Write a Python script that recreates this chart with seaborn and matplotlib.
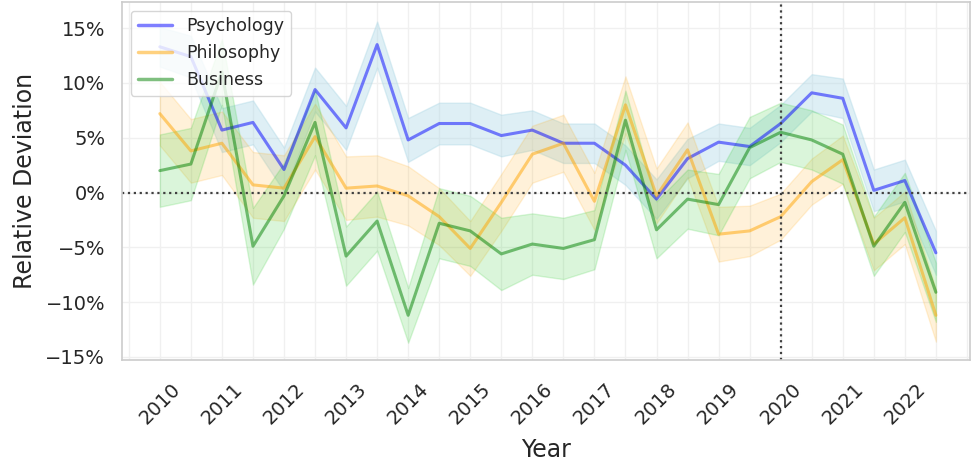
import numpy as np
import pandas as pd
import seaborn as sns
from matplotlib import pyplot as plt
from matplotlib.ticker import PercentFormatter, MultipleLocator

sns.set_theme(style='whitegrid')

periods = [2010.0, 2010.5, 2011.0, 2011.5, 2012.0, 2012.5, 2013.0, 2013.5, 2014.0, 2014.5,
           2015.0, 2015.5, 2016.0, 2016.5, 2017.0, 2017.5, 2018.0, 2018.5, 2019.0, 2019.5,
           2020.0, 2020.5, 2021.0, 2021.5, 2022.0, 2022.5]
year_ticks = [2010, 2011, 2012, 2013, 2014, 2015, 2016, 2017, 2018, 2019, 2020, 2021, 2022]

psychology = [13.3, 12.4, 5.7, 6.4, 2.1, 9.4, 5.9, 13.5, 4.8, 6.3, 6.3, 5.2, 5.7,
              4.5, 4.5, 2.5, -0.6, 3.1, 4.6, 4.2, 6.3, 9.1, 8.6, 0.2, 1.1, -5.5]
psychology_err = [1.8, 1.9, 2.0, 2.0, 2.0, 2.0, 2.0, 2.1, 2.0, 1.9, 1.9, 1.9, 1.8,
                  1.8, 1.8, 1.8, 1.8, 1.8, 1.7, 1.7, 1.7, 1.7, 1.8, 1.9, 1.9, 2.0]
philosophy = [7.2, 3.8, 4.5, 0.7, 0.4, 5.1, 0.4, 0.6, -0.3, -2.2, -5.1, -0.9, 3.5,
              4.5, -0.8, 8.0, -0.3, 3.9, -3.8, -3.5, -2.2, 1.0, 3.0, -4.7, -2.3, -11.2]
philosophy_err = [2.9, 2.9, 2.9, 3.0, 3.0, 3.0, 2.9, 2.8, 2.7, 2.6, 2.5, 2.6, 2.6,
                  2.6, 2.6, 2.6, 2.5, 2.5, 2.5, 2.3, 2.1, 2.1, 2.2, 2.4, 2.4, 2.4]
business = [2.0, 2.6, 11.0, -4.9, -0.3, 6.4, -5.8, -2.6, -11.2, -2.8, -3.5, -5.6, -4.7,
            -5.1, -4.3, 6.6, -3.4, -0.6, -1.1, 4.1, 5.5, 4.8, 3.5, -4.9, -0.9, -9.1]
business_err = [3.3, 3.3, 3.0, 3.5, 3.0, 3.0, 2.7, 2.7, 2.5, 3.2, 3.2, 3.3, 2.8,
                2.8, 2.7, 2.7, 2.6, 2.7, 2.8, 2.8, 2.7, 2.7, 2.7, 2.7, 2.7, 2.7]

fields = ['Psychology', 'Philosophy', 'Business']
line_colors = {'Psychology': 'blue', 'Philosophy': 'orange', 'Business': 'green'}
band_colors = {'Psychology': ('lightblue', 0.4), 'Philosophy': ('orange', 0.15),
               'Business': ('limegreen', 0.18)}

df = pd.concat([
    pd.DataFrame({'Year': periods, 'dev': psychology, 'err': psychology_err, 'field': 'Psychology'}),
    pd.DataFrame({'Year': periods, 'dev': philosophy, 'err': philosophy_err, 'field': 'Philosophy'}),
    pd.DataFrame({'Year': periods, 'dev': business, 'err': business_err, 'field': 'Business'}),
])

fig, ax = plt.subplots(figsize=(9.71, 4.66), dpi=100)
fig.subplots_adjust(left=0.1256, right=0.999, top=0.996, bottom=0.227)

for f in fields:
    d = df[df['field'] == f]
    c, a = band_colors[f]
    ax.fill_between(d['Year'], d['dev'] - d['err'], d['dev'] + d['err'], color=c, alpha=a)

sns.lineplot(data=df, x='Year', y='dev', hue='field', hue_order=fields, palette=line_colors,
             linewidth=2.2, alpha=0.5, ax=ax)

ax.axhline(0, color='0.25', linestyle=':', linewidth=1.6)
ax.axvline(2020, color='0.25', linestyle=':', linewidth=1.6)

ax.set_xlim(2009.39, 2023.05)
ax.set_ylim(-15.3, 17.4)
ax.set_xticks(year_ticks)
ax.set_xticklabels([str(y) for y in year_ticks], rotation=45, fontsize=14)
ax.xaxis.set_minor_locator(MultipleLocator(0.5))
ax.yaxis.set_major_locator(MultipleLocator(5))
ax.yaxis.set_major_formatter(PercentFormatter(decimals=0))
ax.tick_params(axis='y', labelsize=14, pad=12)
ax.tick_params(axis='x', pad=14)
ax.tick_params(which='both', length=0)
ax.grid(which='both', color='0.94', linewidth=1)
ax.set_xlabel('Year', fontsize=17, labelpad=7)
ax.set_ylabel('Relative Deviation', fontsize=17, labelpad=6)
for s in ax.spines.values():
    s.set_color('0.8')
    s.set_linewidth(1.2)

leg = ax.legend(loc='upper left', fontsize=12.5, title=None)
for h in leg.get_lines():
    h.set_linewidth(2.5)
    h.set_alpha(0.5)

fig.savefig('out.png', dpi=100)
